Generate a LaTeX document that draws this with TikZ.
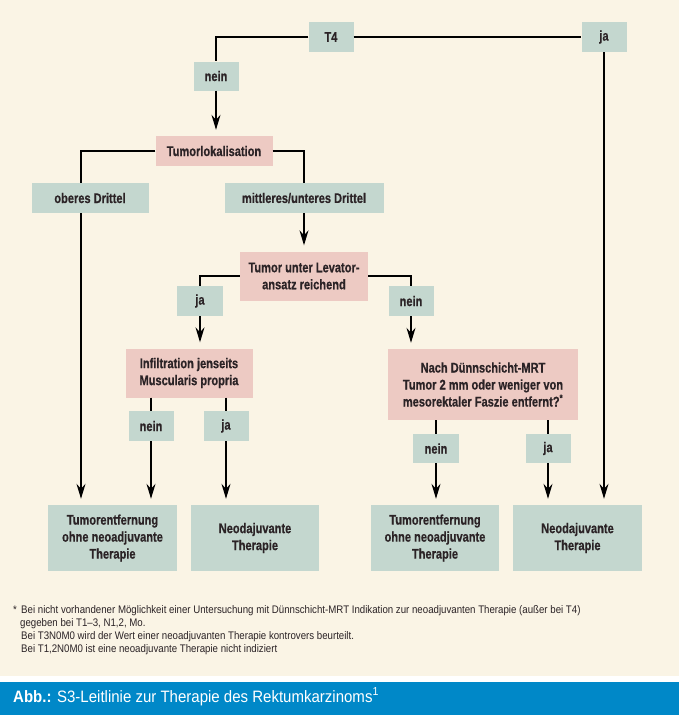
\documentclass[tikz,border=0pt]{standalone}
\usepackage{fontspec}
\setmainfont{Liberation Sans}[FakeStretch=0.79, BoldFeatures={FakeBold=0.5}]
\newfontfamily\fnfont{Liberation Sans}[FakeStretch=0.88]
\newfontfamily\capfont{Liberation Sans}[FakeStretch=0.91]
\usetikzlibrary{arrows.meta}
\definecolor{bgc}{HTML}{FAF4E5}
\definecolor{pinkc}{HTML}{EDCAC3}
\definecolor{greenc}{HTML}{C4D7CF}
\definecolor{txtc}{HTML}{2B2326}
\definecolor{bandc}{HTML}{0088C8}
\begin{document}
\begin{tikzpicture}[x=1pt,y=-1pt,
  box/.style={inner sep=0pt, align=center, text=txtc, font=\fontsize{14}{17}\selectfont\bfseries},
  qbox/.style={box, fill=pinkc},
  abox/.style={box, fill=greenc},
  wh/.style 2 args={minimum width=#1pt, minimum height=#2pt},
  conn/.style={line width=1.2pt, draw=black},
  arr/.style={conn, -{Stealth[length=15pt,width=9pt,inset=5pt]}, shorten >=6pt},
  fnote/.style={anchor=base west, inner sep=0pt, text=txtc, font=\fnfont\fontsize{11}{13}\selectfont}
]
\fill[bgc] (0,0) rectangle (679,676);
\fill[white] (0,676) rectangle (679,682);
\fill[bandc] (0,682) rectangle (679,715);
\useasboundingbox (0,0) rectangle (679,715);

% nodes
\node[abox, wh={45}{30}] (T4) at (331,37) {T4};
\node[abox, wh={45}{30}] (jaT) at (604,37) {ja};
\node[abox, wh={45}{29}] (nein1) at (216,76) {nein};
\node[qbox, wh={117}{30}] (lok) at (214,151) {Tumorlokalisation};
\node[abox, wh={117}{30}] (ober) at (90,198) {oberes Drittel};
\node[abox, wh={159}{30}] (mitt) at (304,198) {mittleres/unteres Drittel};
\node[qbox, wh={128}{49}] (lev) at (304,276) {Tumor unter Levator-\\ansatz reichend};
\node[abox, wh={46}{30}] (ja2) at (200,301) {ja};
\node[abox, wh={45}{30}] (nein2) at (411,301) {nein};
\node[qbox, wh={127}{49}] (inf) at (189,373) {Infiltration jenseits\\Muscularis propria};
\node[qbox, wh={190}{71}] (nach) at (483,384.5) {Nach Dünnschicht-MRT\\Tumor 2 mm oder weniger von\\mesorektaler Faszie entfernt?\textsuperscript{*}};
\node[abox, wh={45}{30}] (nein3) at (151,426) {nein};
\node[abox, wh={45}{30}] (ja3) at (226,426) {ja};
\node[abox, wh={46}{29}] (nein4) at (436,448.5) {nein};
\node[abox, wh={45}{29}] (ja4) at (548,448.5) {ja};
\node[abox, wh={129}{66}] (r1) at (112.5,538) {Tumorentfernung\\ohne neoadjuvante\\Therapie};
\node[abox, wh={128}{66}] (r2) at (255,538) {Neodajuvante\\Therapie};
\node[abox, wh={128}{66}] (r3) at (435,538) {Tumorentfernung\\ohne neoadjuvante\\Therapie};
\node[abox, wh={129}{66}] (r4) at (577.5,538) {Neodajuvante\\Therapie};

% connectors
\draw[conn] (T4.west) -| (nein1.north);
\draw[conn] (T4.east) -- (jaT.west);
\draw[arr] (jaT.south) -- (jaT.south |- r4.north);
\draw[arr] (nein1.south) -- (lok.north -| nein1.south);
\draw[conn] (lok.west) -| ([xshift=-9pt]ober.north);
\draw[arr] ([xshift=-9pt]ober.south) -- ([xshift=-9pt]ober.south |- r1.north);
\draw[conn] (lok.east) -| (mitt.north);
\draw[arr] (mitt.south) -- (lev.north);
\draw[conn] (lev.west) -| (ja2.north);
\draw[conn] (lev.east) -| (nein2.north);
\draw[arr] (ja2.south) -- (ja2.south |- inf.north);
\draw[arr] (nein2.south) -- (nein2.south |- nach.north);
\draw[conn] (nein3.north |- inf.south) -- (nein3.north);
\draw[conn] (ja3.north |- inf.south) -- (ja3.north);
\draw[arr] (nein3.south) -- (nein3.south |- r1.north);
\draw[arr] (ja3.south) -- (ja3.south |- r2.north);
\draw[conn] (nein4.north |- nach.south) -- (nein4.north);
\draw[conn] (ja4.north |- nach.south) -- (ja4.north);
\draw[arr] (nein4.south) -- (nein4.south |- r3.north);
\draw[arr] (ja4.south) -- (ja4.south |- r4.north);

% footnote
\node[fnote] (ast) at (13,613) {*};
\node[fnote] (fn1) at (21,613) {Bei nicht vorhandener Möglichkeit einer Untersuchung mit Dünnschicht-MRT Indikation zur neoadjuvanten Therapie (außer bei T4)};
\node[fnote] (fn2) at (20,626) {gegeben bei T1–3, N1,2, Mo.};
\node[fnote] (fn3) at (21,639) {Bei T3N0M0 wird der Wert einer neoadjuvanten Therapie kontrovers beurteilt.};
\node[fnote] (fn4) at (21,652) {Bei T1,2N0M0 ist eine neoadjuvante Therapie nicht indiziert};

% caption band
\node[anchor=base west, inner sep=0pt, text=white, font=\capfont\fontsize{16.5}{20}\selectfont] (cap) at (13,702) {\textbf{Abb.:} S3-Leitlinie zur Therapie des Rektumkarzinoms\textsuperscript{1}};
\end{tikzpicture}
\end{document}
